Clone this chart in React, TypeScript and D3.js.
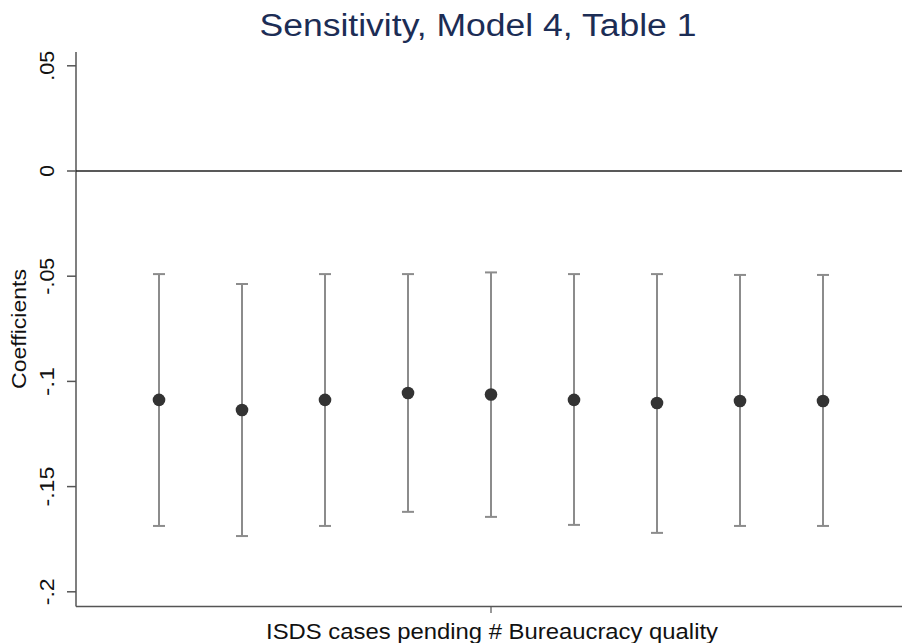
import React from "react";
import * as d3 from "d3";

const positions = [1, 2, 3, 4, 5, 6, 7, 8, 9];
const coefs = [-0.1088, -0.1136, -0.1088, -0.1055, -0.1062, -0.1088, -0.1103, -0.1093, -0.1093];
const upper = [-0.049, -0.0537, -0.049, -0.049, -0.0482, -0.049, -0.049, -0.0494, -0.0494];
const lower = [-0.1687, -0.1735, -0.1687, -0.162, -0.1644, -0.1682, -0.172, -0.1687, -0.1687];
const yTicks = [0.05, 0, -0.05, -0.1, -0.15, -0.2];
const yTickLabels = [".05", "0", "-.05", "-.1", "-.15", "-.2"];
const yTickLens = [30, 0, 37, 29, 40, 27];

const W = 902;
const H = 643;
const font = "'Liberation Sans', Arial, sans-serif";

export default function App() {
  const x = d3.scaleLinear().domain([0, 10]).range([76, 906]);
  const y = d3.scaleLinear().domain([0, -0.2]).range([171, 591.8]);
  const axisColor = "#555";
  return (
    <svg width={W} height={H} style={{ position: "absolute", left: 0, top: 0, background: "#fff" }}>
      <rect x={0} y={0} width={W} height={H} fill="#fff" />
      <text x={478} y={36} textAnchor="middle" fontFamily={font} fontSize={31} fill="#1c2d55"
        textLength={437} lengthAdjust="spacingAndGlyphs">
        Sensitivity, Model 4, Table 1
      </text>
      {/* y axis */}
      <line x1={76} x2={76} y1={52} y2={606.5} stroke={axisColor} strokeWidth={1.5} />
      {yTicks.map((t, i) => (
        <g key={i}>
          <line x1={67} x2={76} y1={y(t)} y2={y(t)} stroke={axisColor} strokeWidth={1.5} />
          <text
            transform={`translate(${54},${y(t)}) rotate(-90)`}
            textAnchor="middle"
            fontFamily={font}
            fontSize={21}
            fill="#111"
            {...(yTickLens[i] ? { textLength: yTickLens[i], lengthAdjust: "spacingAndGlyphs" } : {})}
          >
            {yTickLabels[i]}
          </text>
        </g>
      ))}
      <text
        transform={`translate(${25.5},${329}) rotate(-90)`}
        textAnchor="middle"
        fontFamily={font}
        fontSize={20}
        fill="#111"
        textLength={120}
        lengthAdjust="spacingAndGlyphs"
      >
        Coefficients
      </text>
      {/* x axis */}
      <line x1={76} x2={W} y1={606.5} y2={606.5} stroke={axisColor} strokeWidth={1.5} />
      <line x1={x(5)} x2={x(5)} y1={606.5} y2={613} stroke={axisColor} strokeWidth={1.2} />
      <text x={492} y={639} textAnchor="middle" fontFamily={font} fontSize={22} fill="#111"
        textLength={452} lengthAdjust="spacingAndGlyphs">
        ISDS cases pending # Bureaucracy quality
      </text>
      {/* zero line */}
      <line x1={76} x2={W} y1={y(0)} y2={y(0)} stroke="#222" strokeWidth={1.6} />
      {/* error bars */}
      {positions.map((p, i) => (
        <g key={i}>
          <line x1={x(p)} x2={x(p)} y1={y(upper[i])} y2={y(lower[i])} stroke="#8c8c8c" strokeWidth={2} />
          <line x1={x(p) - 6} x2={x(p) + 6} y1={y(upper[i])} y2={y(upper[i])} stroke="#8c8c8c" strokeWidth={2} />
          <line x1={x(p) - 6} x2={x(p) + 6} y1={y(lower[i])} y2={y(lower[i])} stroke="#8c8c8c" strokeWidth={2} />
          <circle cx={x(p)} cy={y(coefs[i])} r={6.3} fill="#333" />
        </g>
      ))}
    </svg>
  );
}
